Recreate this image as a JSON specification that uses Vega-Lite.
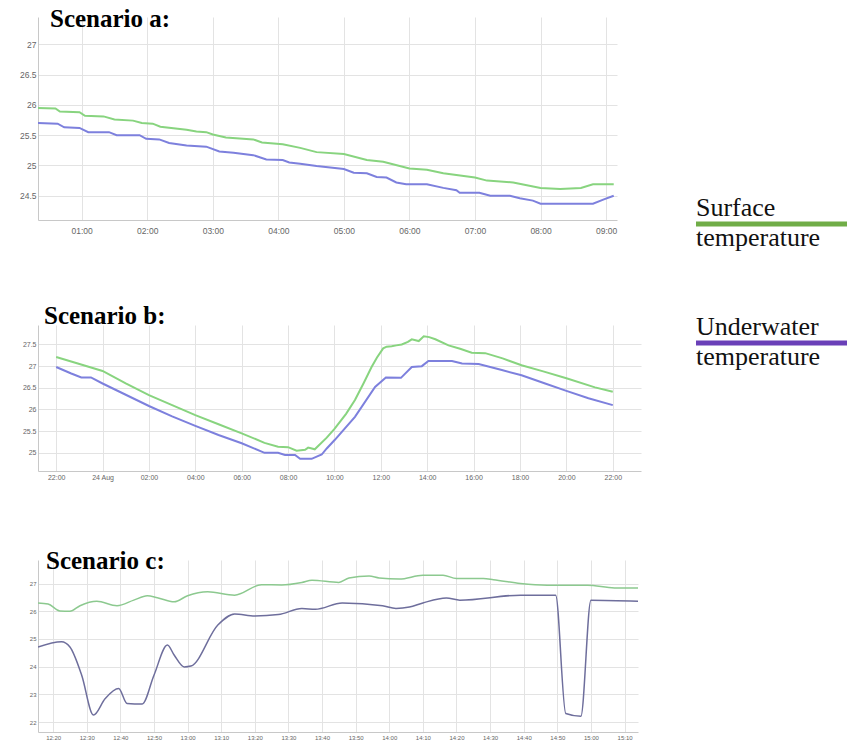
{
  "$schema": "https://vega.github.io/schema/vega-lite/v6.json",
  "background": "white",
  "padding": {"left": 8, "top": 7, "right": 0, "bottom": 0},
  "config": {
    "view": {"stroke": null},
    "axis": {"titlePadding": 0, "labelFont": "Liberation Sans", "labelColor": "#666666", "ticks": false, "gridColor": "#e3e3e3", "domainColor": "#c8c8c8"},
    "title": {"font": "Liberation Serif", "fontSize": 25, "fontWeight": "bold", "color": "#000000", "anchor": "start", "frame": "group"}
  },
  "datasets": {
    "a": [
      {"m": 20, "s": "Surface", "v": 25.95}, {"m": 36, "s": "Surface", "v": 25.94}, {"m": 40, "s": "Surface", "v": 25.89}, {"m": 58, "s": "Surface", "v": 25.88},
      {"m": 63, "s": "Surface", "v": 25.82}, {"m": 80, "s": "Surface", "v": 25.81}, {"m": 90, "s": "Surface", "v": 25.76}, {"m": 107, "s": "Surface", "v": 25.74},
      {"m": 115, "s": "Surface", "v": 25.70}, {"m": 125, "s": "Surface", "v": 25.69}, {"m": 132, "s": "Surface", "v": 25.64}, {"m": 156, "s": "Surface", "v": 25.59},
      {"m": 165, "s": "Surface", "v": 25.56}, {"m": 174, "s": "Surface", "v": 25.55}, {"m": 180, "s": "Surface", "v": 25.51}, {"m": 192, "s": "Surface", "v": 25.46},
      {"m": 217, "s": "Surface", "v": 25.43}, {"m": 225, "s": "Surface", "v": 25.38}, {"m": 244, "s": "Surface", "v": 25.35}, {"m": 260, "s": "Surface", "v": 25.29},
      {"m": 275, "s": "Surface", "v": 25.22}, {"m": 300, "s": "Surface", "v": 25.19}, {"m": 321, "s": "Surface", "v": 25.09}, {"m": 336, "s": "Surface", "v": 25.06},
      {"m": 360, "s": "Surface", "v": 24.95}, {"m": 376, "s": "Surface", "v": 24.93}, {"m": 391, "s": "Surface", "v": 24.87}, {"m": 420, "s": "Surface", "v": 24.80},
      {"m": 431, "s": "Surface", "v": 24.75}, {"m": 455, "s": "Surface", "v": 24.72}, {"m": 480, "s": "Surface", "v": 24.63}, {"m": 498, "s": "Surface", "v": 24.61},
      {"m": 517, "s": "Surface", "v": 24.63}, {"m": 528, "s": "Surface", "v": 24.69}, {"m": 547, "s": "Surface", "v": 24.69},
      {"m": 20, "s": "Underwater", "v": 25.70}, {"m": 38, "s": "Underwater", "v": 25.69}, {"m": 44, "s": "Underwater", "v": 25.63}, {"m": 58, "s": "Underwater", "v": 25.62},
      {"m": 66, "s": "Underwater", "v": 25.55}, {"m": 85, "s": "Underwater", "v": 25.55}, {"m": 92, "s": "Underwater", "v": 25.50}, {"m": 113, "s": "Underwater", "v": 25.50},
      {"m": 119, "s": "Underwater", "v": 25.44}, {"m": 131, "s": "Underwater", "v": 25.43}, {"m": 140, "s": "Underwater", "v": 25.37}, {"m": 156, "s": "Underwater", "v": 25.33},
      {"m": 174, "s": "Underwater", "v": 25.31}, {"m": 186, "s": "Underwater", "v": 25.23}, {"m": 199, "s": "Underwater", "v": 25.21}, {"m": 217, "s": "Underwater", "v": 25.17},
      {"m": 229, "s": "Underwater", "v": 25.10}, {"m": 244, "s": "Underwater", "v": 25.09}, {"m": 250, "s": "Underwater", "v": 25.05}, {"m": 260, "s": "Underwater", "v": 25.03},
      {"m": 275, "s": "Underwater", "v": 24.99}, {"m": 300, "s": "Underwater", "v": 24.94}, {"m": 309, "s": "Underwater", "v": 24.88}, {"m": 321, "s": "Underwater", "v": 24.87},
      {"m": 330, "s": "Underwater", "v": 24.81}, {"m": 339, "s": "Underwater", "v": 24.80}, {"m": 348, "s": "Underwater", "v": 24.72}, {"m": 357, "s": "Underwater", "v": 24.69},
      {"m": 376, "s": "Underwater", "v": 24.69}, {"m": 391, "s": "Underwater", "v": 24.63}, {"m": 403, "s": "Underwater", "v": 24.59}, {"m": 406, "s": "Underwater", "v": 24.55},
      {"m": 424, "s": "Underwater", "v": 24.55}, {"m": 434, "s": "Underwater", "v": 24.50}, {"m": 452, "s": "Underwater", "v": 24.50}, {"m": 461, "s": "Underwater", "v": 24.46},
      {"m": 473, "s": "Underwater", "v": 24.42}, {"m": 480, "s": "Underwater", "v": 24.37}, {"m": 528, "s": "Underwater", "v": 24.37}, {"m": 538, "s": "Underwater", "v": 24.44},
      {"m": 547, "s": "Underwater", "v": 24.50}
    ],
    "b": [
      {"m": 1320, "s": "Surface", "v": 27.21}, {"m": 1376, "s": "Surface", "v": 27.06}, {"m": 1440, "s": "Surface", "v": 26.89}, {"m": 1500, "s": "Surface", "v": 26.60},
      {"m": 1560, "s": "Surface", "v": 26.33}, {"m": 1620, "s": "Surface", "v": 26.10}, {"m": 1680, "s": "Surface", "v": 25.87}, {"m": 1740, "s": "Surface", "v": 25.66},
      {"m": 1800, "s": "Surface", "v": 25.45}, {"m": 1859, "s": "Surface", "v": 25.23}, {"m": 1894, "s": "Surface", "v": 25.14}, {"m": 1920, "s": "Surface", "v": 25.13},
      {"m": 1942, "s": "Surface", "v": 25.05}, {"m": 1964, "s": "Surface", "v": 25.07}, {"m": 1972, "s": "Surface", "v": 25.12}, {"m": 1989, "s": "Surface", "v": 25.08},
      {"m": 2020, "s": "Surface", "v": 25.35}, {"m": 2040, "s": "Surface", "v": 25.55}, {"m": 2070, "s": "Surface", "v": 25.90}, {"m": 2093, "s": "Surface", "v": 26.22},
      {"m": 2115, "s": "Surface", "v": 26.60}, {"m": 2136, "s": "Surface", "v": 26.98}, {"m": 2150, "s": "Surface", "v": 27.20}, {"m": 2166, "s": "Surface", "v": 27.41},
      {"m": 2175, "s": "Surface", "v": 27.45}, {"m": 2188, "s": "Surface", "v": 27.46}, {"m": 2200, "s": "Surface", "v": 27.48}, {"m": 2214, "s": "Surface", "v": 27.50},
      {"m": 2230, "s": "Surface", "v": 27.56}, {"m": 2240, "s": "Surface", "v": 27.62}, {"m": 2258, "s": "Surface", "v": 27.58}, {"m": 2271, "s": "Surface", "v": 27.69},
      {"m": 2285, "s": "Surface", "v": 27.67}, {"m": 2301, "s": "Surface", "v": 27.62}, {"m": 2335, "s": "Surface", "v": 27.48}, {"m": 2365, "s": "Surface", "v": 27.40},
      {"m": 2395, "s": "Surface", "v": 27.31}, {"m": 2430, "s": "Surface", "v": 27.30}, {"m": 2475, "s": "Surface", "v": 27.18}, {"m": 2524, "s": "Surface", "v": 27.02},
      {"m": 2580, "s": "Surface", "v": 26.88}, {"m": 2640, "s": "Surface", "v": 26.72}, {"m": 2714, "s": "Surface", "v": 26.51}, {"m": 2760, "s": "Surface", "v": 26.41},
      {"m": 1320, "s": "Underwater", "v": 26.98}, {"m": 1359, "s": "Underwater", "v": 26.83}, {"m": 1385, "s": "Underwater", "v": 26.74}, {"m": 1410, "s": "Underwater", "v": 26.74},
      {"m": 1440, "s": "Underwater", "v": 26.60}, {"m": 1500, "s": "Underwater", "v": 26.34}, {"m": 1560, "s": "Underwater", "v": 26.08}, {"m": 1620, "s": "Underwater", "v": 25.84},
      {"m": 1680, "s": "Underwater", "v": 25.62}, {"m": 1740, "s": "Underwater", "v": 25.41}, {"m": 1800, "s": "Underwater", "v": 25.22}, {"m": 1859, "s": "Underwater", "v": 25.00},
      {"m": 1894, "s": "Underwater", "v": 25.00}, {"m": 1912, "s": "Underwater", "v": 24.95}, {"m": 1938, "s": "Underwater", "v": 24.95}, {"m": 1951, "s": "Underwater", "v": 24.86},
      {"m": 1981, "s": "Underwater", "v": 24.86}, {"m": 2007, "s": "Underwater", "v": 24.96}, {"m": 2020, "s": "Underwater", "v": 25.10}, {"m": 2041, "s": "Underwater", "v": 25.30},
      {"m": 2093, "s": "Underwater", "v": 25.83}, {"m": 2145, "s": "Underwater", "v": 26.52}, {"m": 2173, "s": "Underwater", "v": 26.74}, {"m": 2212, "s": "Underwater", "v": 26.73},
      {"m": 2240, "s": "Underwater", "v": 26.98}, {"m": 2266, "s": "Underwater", "v": 27.00}, {"m": 2283, "s": "Underwater", "v": 27.12}, {"m": 2344, "s": "Underwater", "v": 27.12},
      {"m": 2370, "s": "Underwater", "v": 27.06}, {"m": 2413, "s": "Underwater", "v": 27.05}, {"m": 2473, "s": "Underwater", "v": 26.91}, {"m": 2524, "s": "Underwater", "v": 26.79},
      {"m": 2585, "s": "Underwater", "v": 26.60}, {"m": 2640, "s": "Underwater", "v": 26.43}, {"m": 2697, "s": "Underwater", "v": 26.26}, {"m": 2760, "s": "Underwater", "v": 26.10}
    ],
    "c": [
      {"m": 15.5, "s": "Surface", "v": 26.30}, {"m": 18.5, "s": "Surface", "v": 26.26}, {"m": 22, "s": "Surface", "v": 26.01}, {"m": 25, "s": "Surface", "v": 26.00},
      {"m": 28, "s": "Surface", "v": 26.20}, {"m": 33, "s": "Surface", "v": 26.36}, {"m": 39, "s": "Surface", "v": 26.20}, {"m": 44, "s": "Surface", "v": 26.40},
      {"m": 48, "s": "Surface", "v": 26.56}, {"m": 51, "s": "Surface", "v": 26.49}, {"m": 56, "s": "Surface", "v": 26.34}, {"m": 60, "s": "Surface", "v": 26.56},
      {"m": 66, "s": "Surface", "v": 26.70}, {"m": 74, "s": "Surface", "v": 26.58}, {"m": 82, "s": "Surface", "v": 26.96}, {"m": 88, "s": "Surface", "v": 26.95},
      {"m": 94, "s": "Surface", "v": 27.04}, {"m": 97, "s": "Surface", "v": 27.12}, {"m": 105, "s": "Surface", "v": 27.04}, {"m": 108, "s": "Surface", "v": 27.20},
      {"m": 114, "s": "Surface", "v": 27.27}, {"m": 117, "s": "Surface", "v": 27.20}, {"m": 123, "s": "Surface", "v": 27.16}, {"m": 130, "s": "Surface", "v": 27.30},
      {"m": 136, "s": "Surface", "v": 27.30}, {"m": 140, "s": "Surface", "v": 27.18}, {"m": 148, "s": "Surface", "v": 27.18}, {"m": 151, "s": "Surface", "v": 27.14},
      {"m": 159, "s": "Surface", "v": 27.00}, {"m": 167, "s": "Surface", "v": 26.94}, {"m": 179, "s": "Surface", "v": 26.94}, {"m": 187, "s": "Surface", "v": 26.84},
      {"m": 194, "s": "Surface", "v": 26.84},
      {"m": 15.5, "s": "Underwater", "v": 24.71}, {"m": 22.5, "s": "Underwater", "v": 24.90}, {"m": 25, "s": "Underwater", "v": 24.71}, {"m": 28.5, "s": "Underwater", "v": 23.69},
      {"m": 32, "s": "Underwater", "v": 22.25}, {"m": 35.5, "s": "Underwater", "v": 22.85}, {"m": 39.5, "s": "Underwater", "v": 23.21}, {"m": 42, "s": "Underwater", "v": 22.67},
      {"m": 46.5, "s": "Underwater", "v": 22.65}, {"m": 50, "s": "Underwater", "v": 23.69}, {"m": 54, "s": "Underwater", "v": 24.78}, {"m": 56, "s": "Underwater", "v": 24.42},
      {"m": 59, "s": "Underwater", "v": 23.99}, {"m": 61, "s": "Underwater", "v": 24.02}, {"m": 69, "s": "Underwater", "v": 25.50}, {"m": 74, "s": "Underwater", "v": 25.90},
      {"m": 80, "s": "Underwater", "v": 25.83}, {"m": 87, "s": "Underwater", "v": 25.88}, {"m": 94, "s": "Underwater", "v": 26.10}, {"m": 98, "s": "Underwater", "v": 26.07},
      {"m": 106, "s": "Underwater", "v": 26.30}, {"m": 118, "s": "Underwater", "v": 26.20}, {"m": 122, "s": "Underwater", "v": 26.10}, {"m": 126, "s": "Underwater", "v": 26.15},
      {"m": 130, "s": "Underwater", "v": 26.30}, {"m": 137, "s": "Underwater", "v": 26.48}, {"m": 141, "s": "Underwater", "v": 26.40}, {"m": 159, "s": "Underwater", "v": 26.58},
      {"m": 169.5, "s": "Underwater", "v": 26.58}, {"m": 172.5, "s": "Underwater", "v": 22.31}, {"m": 177, "s": "Underwater", "v": 22.21}, {"m": 180, "s": "Underwater", "v": 26.40},
      {"m": 194, "s": "Underwater", "v": 26.36}
    ],
    "legendrows": [
      {"series": "Surface temperature", "w1": "Surface", "w2": "temperature"},
      {"series": "Underwater temperature", "w1": "Underwater", "w2": "temperature"}
    ]
  },
  "resolve": {"scale": {"color": "independent"}},
  "spacing": 52,
  "hconcat": [
    {
      "spacing": 69,
      "resolve": {"scale": {"color": "independent"}},
      "vconcat": [
        {
          "width": 579,
          "height": 203,
          "title": {"text": "Scenario a:", "offset": -15, "dx": 12},
          "data": {"name": "a"},
          "mark": {"type": "line", "strokeWidth": 2, "clip": true},
          "encoding": {
            "x": {"field": "m", "type": "quantitative",
              "scale": {"domain": [20, 550], "nice": false, "zero": false},
              "axis": {"title": null, "values": [60, 120, 180, 240, 300, 360, 420, 480, 540], "labelExpr": "(datum.value / 60 < 10 ? '0' : '') + (datum.value / 60) + ':00'", "labelFontSize": 8.5, "labelPadding": 6, "labelOverlap": false, "labelFlush": false}},
            "y": {"field": "v", "type": "quantitative",
              "scale": {"domain": [24.1, 27.45], "nice": false, "zero": false},
              "axis": {"title": null, "values": [24.5, 25, 25.5, 26, 26.5, 27], "format": "~g", "labelFontSize": 8.5, "labelPadding": 2, "minExtent": 30, "labelOverlap": false, "labelFlush": false}},
            "color": {"field": "s", "type": "nominal", "scale": {"domain": ["Surface", "Underwater"], "range": ["#88d47f", "#7d80dd"]}, "legend": null}
          }
        },
        {
          "width": 603,
          "height": 146,
          "title": {"text": "Scenario b:", "offset": -4, "dx": 6},
          "data": {"name": "b"},
          "mark": {"type": "line", "strokeWidth": 2, "clip": true},
          "encoding": {
            "x": {"field": "m", "type": "quantitative",
              "scale": {"domain": [1273, 2833], "nice": false, "zero": false},
              "axis": {"title": null, "values": [1320, 1440, 1560, 1680, 1800, 1920, 2040, 2160, 2280, 2400, 2520, 2640, 2760], "labelExpr": "datum.value == 1440 ? '24 Aug' : (((datum.value / 60) % 24) < 10 ? '0' : '') + ((datum.value / 60) % 24) + ':00'", "labelFontSize": 7, "labelPadding": 2, "labelOverlap": false, "labelFlush": false}},
            "y": {"field": "v", "type": "quantitative",
              "scale": {"domain": [24.58, 27.95], "nice": false, "zero": false},
              "axis": {"title": null, "values": [25, 25.5, 26, 26.5, 27, 27.5], "format": "~g", "labelFontSize": 7, "labelPadding": 2, "minExtent": 19, "labelOverlap": false, "labelFlush": false}},
            "color": {"field": "s", "type": "nominal", "scale": {"domain": ["Surface", "Underwater"], "range": ["#88d47f", "#7d80dd"]}, "legend": null}
          }
        },
        {
          "width": 600,
          "height": 172,
          "title": {"text": "Scenario c:", "offset": -14, "dx": 8},
          "data": {"name": "c"},
          "mark": {"type": "line", "strokeWidth": 1.5, "interpolate": "monotone", "clip": true},
          "encoding": {
            "x": {"field": "m", "type": "quantitative",
              "scale": {"domain": [15.5, 194], "nice": false, "zero": false},
              "axis": {"title": null, "values": [20, 30, 40, 50, 60, 70, 80, 90, 100, 110, 120, 130, 140, 150, 160, 170, 180, 190], "labelExpr": "(floor(datum.value / 60) + 12) + ':' + ((datum.value % 60) < 10 ? '0' : '') + (datum.value % 60)", "labelFontSize": 6, "labelPadding": 2, "labelOverlap": false, "labelFlush": false}},
            "y": {"field": "v", "type": "quantitative",
              "scale": {"domain": [21.64, 27.85], "nice": false, "zero": false},
              "axis": {"title": null, "values": [22, 23, 24, 25, 26, 27], "format": "d", "labelFontSize": 6, "labelPadding": 2, "minExtent": 22, "labelOverlap": false, "labelFlush": false}},
            "color": {"field": "s", "type": "nominal", "scale": {"domain": ["Surface", "Underwater"], "range": ["#8cc98f", "#6e6e9c"]}, "legend": null}
          }
        }
      ]
    },
    {
      "width": 154,
      "height": 370,
      "data": {"name": "legendrows"},
      "encoding": {
        "y": {"field": "series", "type": "nominal", "scale": {"type": "point", "range": [207, 326], "padding": 0}, "axis": null}
      },
      "layer": [
        {
          "mark": {"type": "rule", "strokeWidth": 5},
          "encoding": {
            "color": {"field": "series", "type": "nominal", "scale": {"domain": ["Surface temperature", "Underwater temperature"], "range": ["#70ad47", "#6a40b8"]}, "legend": null}
          }
        },
        {
          "mark": {"type": "text", "align": "left", "baseline": "alphabetic", "dy": -8, "font": "Liberation Serif", "fontSize": 26, "color": "#111111"},
          "encoding": {"x": {"value": 0}, "text": {"field": "w1"}}
        },
        {
          "mark": {"type": "text", "align": "left", "baseline": "alphabetic", "dy": 22, "font": "Liberation Serif", "fontSize": 26, "color": "#111111"},
          "encoding": {"x": {"value": 0}, "text": {"field": "w2"}}
        }
      ]
    }
  ]
}
